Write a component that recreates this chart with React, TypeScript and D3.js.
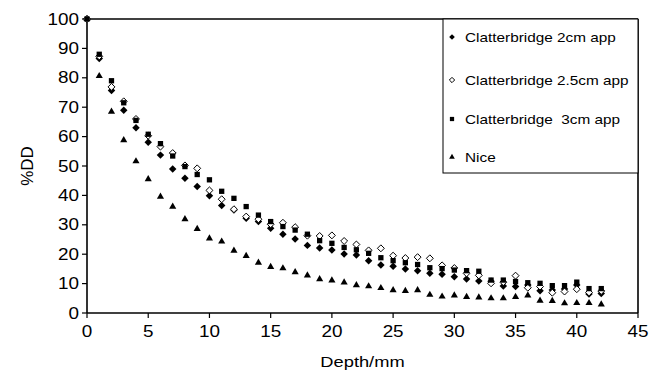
import React from 'react';
import * as d3 from 'd3';

// depth in mm, 0..42
const depth = d3.range(0, 43);

const clat2 = [100, 86.6, 75.7, 69, 63, 58.1, 53.7, 49.0, 45.8, 43.0, 39.9, 36.6, 35.0, 32.2, 31.1, 28.8, 26.8, 25.2, 23.0, 22.1, 21.4, 20.1, 19.7, 17.8, 16.3, 15.9, 15.0, 14.4, 13.5, 13.2, 12.3, 11.6, 10.9, 10.8, 9.2, 9.0, 9.5, 7.6, 7.8, 8.2, 9.5, 6.5, 6.6];
const clat25 = [100, 87.3, 76.9, 72, 66, 60.3, 56.6, 54.4, 50.2, 49.2, 41.7, 38.7, 35.3, 32.8, 31.9, 30.2, 30.7, 29.2, 26.3, 26.2, 26.4, 24.5, 23.3, 21.3, 22.0, 19.5, 18.7, 19.0, 18.6, 16.2, 15.3, 13.5, 12.8, 10.1, 10.5, 12.7, 8.6, 9.0, 6.9, 7.3, 8.1, 7.0, 7.5];
const clat3 = [100, 88.0, 79.0, 71.5, 65.5, 60.8, 57.6, 53.4, 49.8, 47.1, 45.3, 41.4, 39.0, 36.2, 33.3, 31.1, 29.4, 28.2, 26.8, 24.6, 23.7, 22.3, 21.5, 20.3, 18.8, 17.8, 17.1, 16.5, 15.4, 15.1, 14.6, 14.4, 14.2, 11.2, 11.2, 10.7, 10.3, 10.1, 9.3, 9.3, 10.5, 8.3, 8.3];
const nice = [100, 80.6, 68.5, 58.8, 51.6, 45.5, 39.6, 36.2, 31.9, 28.6, 25.4, 24.3, 21.2, 19.4, 17.1, 15.7, 15.2, 13.9, 12.8, 11.5, 11.1, 10.4, 9.5, 9.1, 8.5, 7.8, 7.5, 7.8, 6.2, 5.6, 6.0, 5.5, 5.3, 5.0, 5.0, 5.5, 6.0, 4.2, 4.1, 3.3, 3.4, 3.4, 2.9];

const xTicks = d3.range(0, 46, 5);
const yTicks = d3.range(0, 101, 10);

const seriesNames = ['Clatterbridge 2cm app', 'Clatterbridge 2.5cm app', 'Clatterbridge  3cm app', 'Nice'];

// square diamond (Excel style)
const diamond = {
  draw(ctx: any, size: number) {
    const r = Math.sqrt(size / 2);
    ctx.moveTo(0, -r);
    ctx.lineTo(r, 0);
    ctx.lineTo(0, r);
    ctx.lineTo(-r, 0);
    ctx.closePath();
  },
};

const W = 663, H = 373;
const left = 87, right = 638, top = 19, bottom = 313;
const font = 'Arial, "Liberation Sans", sans-serif';
const sx = 1.18;

export default function App() {
  const x = d3.scaleLinear().domain([0, 45]).range([left, right]);
  const y = d3.scaleLinear().domain([0, 100]).range([bottom, top]);

  const series = [
    { name: seriesNames[0], values: clat2, path: d3.symbol(diamond as any, 28)(), lg: d3.symbol(diamond as any, 16)(), fill: '#000', stroke: 'none' },
    { name: seriesNames[1], values: clat25, path: d3.symbol(diamond as any, 24)(), lg: d3.symbol(diamond as any, 14)(), fill: '#fff', stroke: '#000' },
    { name: seriesNames[2], values: clat3, path: d3.symbol(d3.symbolSquare, 28)(), lg: d3.symbol(d3.symbolSquare, 18)(), fill: '#000', stroke: 'none' },
    { name: seriesNames[3], values: nice, path: d3.symbol(d3.symbolTriangle, 22)(), lg: d3.symbol(d3.symbolTriangle, 14)(), fill: '#000', stroke: 'none' },
  ];
  // draw order: Nice first, squares last
  const drawOrder = [series[3], series[0], series[1], series[2]];

  const legendY = [37, 80, 119, 157];

  return (
    <svg width={W} height={H} style={{ position: 'absolute', left: 0, top: 0, background: '#fff' }}>
      <rect x={0} y={0} width={W} height={H} fill="#fff" />

      {/* frame */}
      <line x1={left} x2={right} y1={top} y2={top} stroke="#000" strokeWidth={1.6} />
      <line x1={right} x2={right} y1={top} y2={bottom} stroke="#000" strokeWidth={1.6} />

      {/* y axis */}
      <line x1={left} x2={left} y1={top} y2={bottom} stroke="#000" strokeWidth={1.6} />
      {yTicks.map(t => (
        <g key={'y' + t}>
          <line x1={left - 5} x2={left} y1={y(t)} y2={y(t)} stroke="#000" strokeWidth={1.2} />
          <text transform={`translate(${left - 8},${y(t) + 5.5}) scale(${sx},1)`} textAnchor="end" fontFamily={font} fontSize={16} fill="#000">{t}</text>
        </g>
      ))}

      {/* x axis */}
      <line x1={left} x2={right} y1={bottom} y2={bottom} stroke="#000" strokeWidth={1.6} />
      {xTicks.map(t => (
        <g key={'x' + t}>
          <line x1={x(t)} x2={x(t)} y1={bottom} y2={bottom + 5} stroke="#000" strokeWidth={1.2} />
          <text transform={`translate(${x(t)},${bottom + 24}) scale(${sx},1)`} textAnchor="middle" fontFamily={font} fontSize={16} fill="#000">{t}</text>
        </g>
      ))}

      {/* axis titles */}
      <text transform={`translate(${(left + right) / 2},${H - 6}) scale(${sx},1)`} textAnchor="middle" fontFamily={font} fontSize={15.5} fill="#000">Depth/mm</text>
      <text transform={`translate(33,${(top + bottom) / 2}) rotate(-90)`} textAnchor="middle" fontFamily={font} fontSize={17} fill="#000">%DD</text>

      {/* points */}
      {drawOrder.map(s => (
        <g key={s.name}>
          {s.values.map((v, i) => (
            <path key={i} d={s.path as string} transform={`translate(${x(depth[i])},${y(v)})`} fill={s.fill} stroke={s.stroke} strokeWidth={1} />
          ))}
        </g>
      ))}

      {/* legend */}
      <rect x={443} y={top} width={right - 443} height={173 - top} fill="#fff" stroke="#000" strokeWidth={1} />
      {series.map((s, i) => (
        <g key={'lg' + i}>
          <path d={s.lg as string} transform={`translate(452,${legendY[i]})`} fill={s.fill} stroke={s.stroke} strokeWidth={1} />
          <text transform={`translate(465,${legendY[i] + 4.5}) scale(${sx},1)`} fontFamily={font} fontSize={13} fill="#000" style={{ whiteSpace: 'pre' }}>{s.name}</text>
        </g>
      ))}
    </svg>
  );
}
